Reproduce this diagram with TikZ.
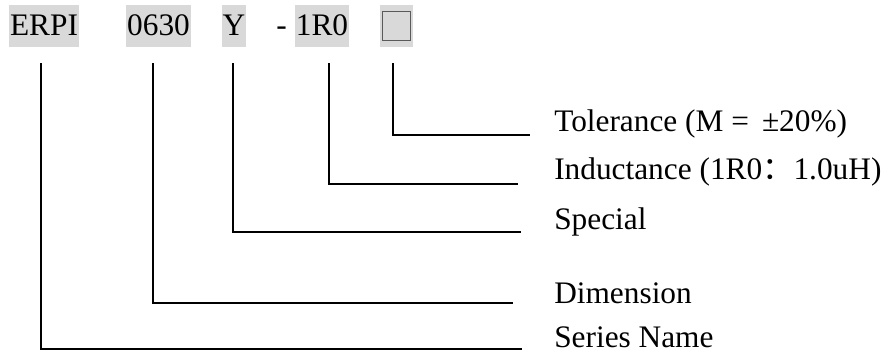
\documentclass[tikz,border=0pt]{standalone}
\usepackage{fontspec}
\setmainfont{Liberation Serif}
\newfontfamily\cjk{Noto Sans CJK SC}
\definecolor{codegray}{HTML}{D9D9D9}
\definecolor{boxline}{HTML}{5A5A5A}
\tikzset{
 part/.style={fill=codegray,inner xsep=0.8pt,inner ysep=0pt,text height=23.25pt,text depth=8.25pt,anchor=base,font=\fontsize{23.5pt}{28pt}\selectfont},
 lbl/.style={inner sep=0pt,anchor=base west,font=\fontsize{23.5pt}{28pt}\selectfont},
 lead/.style={line width=1pt}
}
\begin{document}
\begin{tikzpicture}[x=0.75pt,y=-0.75pt]
\useasboundingbox (0,0) rectangle (888,352);

% part number
\node[part] (erpi) at (44,36) {ERPI};
\node[part] (size) at (158.5,36) {0630};
\node[part] (spec) at (234,36) {Y};
\node[lbl] (dash) at (276,36) {-};
\node[part] (ind) at (322,36) {1R0};
\node[part,minimum width=24.75pt] (tol) at (396.5,36) {};
\node[draw=boxline,line width=1pt,minimum width=21pt,minimum height=21.75pt,inner sep=0pt] (tolsq) at (tol.center) {};

% meanings
\node[lbl] (tolname) at (554,132) {Tolerance (M = \,±20\%)};
\node[lbl] (indname) at (554,180) {Inductance (1R0{\cjk ：}1.0uH)};
\node[lbl] (specname) at (554,230) {Special};
\node[lbl] (dimname) at (554,304) {Dimension};
\node[lbl] (sername) at (554,347) {Series Name};

% leaders
\draw[lead] ([shift={(-3.5,16)}]tol.south) |- ([shift={(-24,3)}]tolname.base west);
\draw[lead] ([shift={(7,16)}]ind.south) |- ([shift={(-36,4)}]indname.base west);
\draw[lead] ([shift={(-1,16)}]spec.south) |- ([shift={(-33,2)}]specname.base west);
\draw[lead] ([shift={(-5.5,16)}]size.south) |- ([shift={(-41,-1)}]dimname.base west);
\draw[lead] ([shift={(-3,16)}]erpi.south) |- ([shift={(-32,2)}]sername.base west);

\end{tikzpicture}
\end{document}
